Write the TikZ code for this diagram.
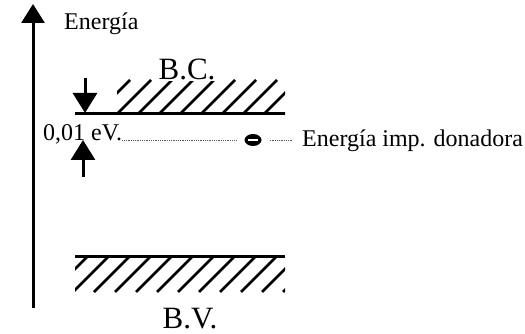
\documentclass[tikz,border=0pt]{standalone}
\usepackage{fontspec}
\setmainfont{Liberation Serif}
\usetikzlibrary{arrows.meta,positioning,shapes.geometric}

\begin{document}
\begin{tikzpicture}[x=1pt,y=-1pt,
  band/.style={line width=3pt},
  hatch/.style={line width=2.8pt},
  arr/.style={-{Triangle[length=20pt,width=24pt]},line width=3pt},
  lvl/.style={densely dotted,gray!70!black,line width=0.8pt},
  lbl/.style={font=\fontsize{24}{28}\selectfont,inner sep=0pt},
  bname/.style={font=\fontsize{31}{36}\selectfont,inner sep=1pt},
  node distance=10pt
]
\useasboundingbox (0,0) rectangle (525,334);
% eje de energia
\coordinate (ejebase) at (33,308);
\coordinate (ejetope) at (33,4);
\draw[arr,-{Triangle[length=19pt,width=23pt]}] (ejebase) -- (ejetope);
\node[lbl,anchor=base west] (energia) at (64,30) {Energía};
% banda de conduccion
\draw[band] (75,114) -- (285,114);
\begin{scope}
  \clip (117,80) rectangle (285,114);
  \foreach \x in {96,117,...,285}
    \draw[hatch] (\x,114) -- ++(34,-34);
\end{scope}
\node[bname,anchor=base,fill=white] (bc) at (187,80) {B.C.};
% banda de valencia
\draw[band] (75,256) -- (285,256);
\begin{scope}
  \clip (75,256) rectangle (285,292);
  \foreach \x in {52,73,...,285}
    \draw[hatch] (\x,292) -- ++(36,-36);
\end{scope}
\node[bname,anchor=base] (bv) at (190,328) {B.V.};
% nivel donador
\node[lbl,anchor=base west] (sep) at (43,141) {0,01 eV.};
\node[ellipse,fill=black,minimum width=17pt,minimum height=12pt,inner sep=0pt] (don) at (253,140) {};
\draw[white,line width=1.5pt] ([xshift=-5pt]don.center) -- ([xshift=5pt]don.center);
\node[lbl,anchor=west] (donlbl) at (302,141) {Energía imp. donadora};
\draw[lvl,shorten >=8pt] (sep.east |- don) -- (don.west);
\draw[lvl,shorten <=8pt,shorten >=9pt] (don.east) -- (donlbl.west |- don);
% flechas de 0,01 eV
\coordinate (arrsup) at (85,78);
\coordinate (bcbase) at (85,113);
\coordinate (arrinf) at (83,177);
\coordinate (nivel) at (83,140);
\draw[arr] (arrsup) -- (bcbase);
\draw[arr] (arrinf) -- (nivel);
\end{tikzpicture}
\end{document}
